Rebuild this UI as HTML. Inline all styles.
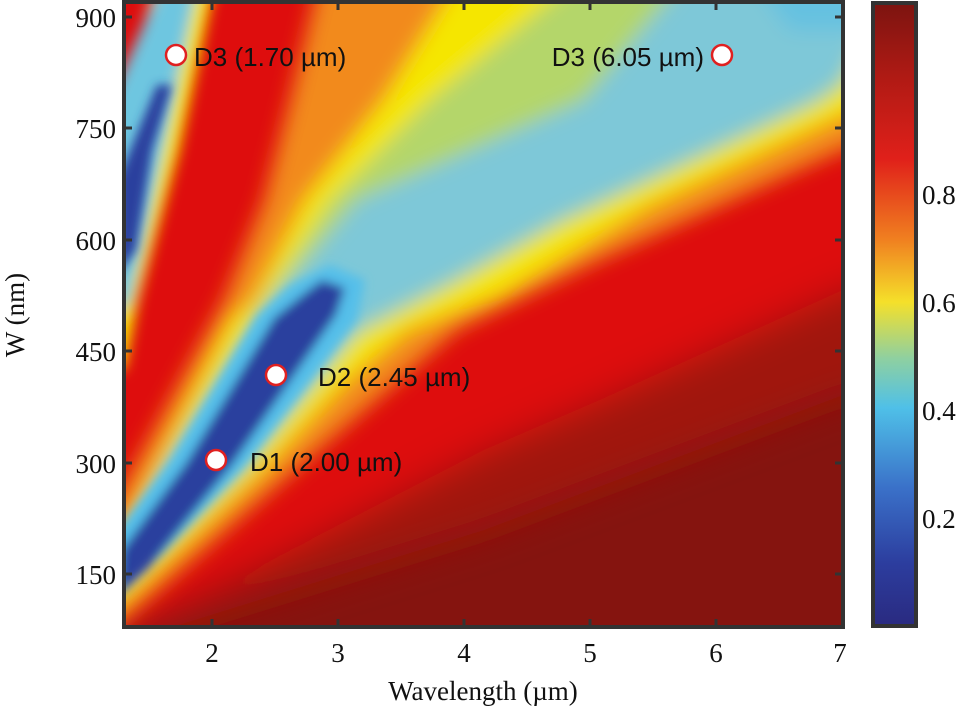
<!DOCTYPE html>
<html><head><meta charset="utf-8"><style>
body{margin:0;background:#fff;}
svg{display:block}
.t{font-family:"Liberation Serif",serif;font-size:27px;fill:#111}
.a{font-family:"Liberation Sans",sans-serif;font-size:26px;fill:#111}
</style></head><body>
<svg width="970" height="719" viewBox="0 0 970 719">
<defs>
<clipPath id="c"><rect x="124" y="2" width="719" height="625"/></clipPath>
<filter id="b" filterUnits="userSpaceOnUse" x="0" y="-100" width="1000" height="900"><feGaussianBlur stdDeviation="18"/></filter>
<filter id="b1" filterUnits="userSpaceOnUse" x="0" y="-100" width="1000" height="900"><feGaussianBlur stdDeviation="10"/></filter>
<filter id="b3" filterUnits="userSpaceOnUse" x="0" y="-100" width="1000" height="900"><feGaussianBlur stdDeviation="7"/></filter>
<filter id="b2" filterUnits="userSpaceOnUse" x="0" y="-100" width="1000" height="900"><feGaussianBlur stdDeviation="5"/></filter>
<linearGradient id="cb" x1="0" y1="0" x2="0" y2="1">
<stop offset="0" stop-color="#7c1410"/><stop offset="0.12" stop-color="#b01a14"/>
<stop offset="0.25" stop-color="#e0201a"/><stop offset="0.38" stop-color="#f08020"/>
<stop offset="0.48" stop-color="#f5e02a"/><stop offset="0.57" stop-color="#8fd0a0"/>
<stop offset="0.65" stop-color="#4fc0e8"/><stop offset="0.78" stop-color="#3a70c8"/>
<stop offset="0.9" stop-color="#2c3d9e"/><stop offset="1" stop-color="#2a2a80"/>
</linearGradient>
</defs>
<g clip-path="url(#c)">
<rect x="100" y="-20" width="760" height="680" fill="#85140f"/>
<g filter="url(#b)">
<polygon points="80,-40 900,-40 900,380 843,395 484,530 130,640 80,650" fill="#a01610"/>
<polygon points="80,-40 900,-40 900,270 843,290 600,400 484,450 300,545 124,630 80,640" fill="#de1010"/>
</g>
<g filter="url(#b1)">
<polygon points="100,640 124,620 284,480 457,330 600,260 843,150 900,130 900,-40 324,-40 290,100 264,200 224,300 135,465 100,530" fill="#f28a1e"/>
<polygon points="100,615 124,600 262,470 345,382 407,330 500,295 650,205 843,115 900,95 900,-40 470,-40 384,100 305,200 254,300 231,320 157,465 124,530 100,560" fill="#f5e600"/>
<polygon points="100,600 126,582 242,472 357,335 450,287 560,225 817,105 843,88 900,-40 600,-40 430,100 330,200 264,300 165,465 124,545 100,570" fill="#b4d66a"/>
<polygon points="100,595 128,572 242,466 357,330 450,282 560,220 817,100 843,80 900,-40 700,-40 584,100 357,200 274,300 170,465 124,555 100,580" fill="#7ec8d8"/>
<polygon points="740,-40 900,-40 900,30 790,30" fill="#55bde8" opacity="0.6"/>
</g>
<g filter="url(#b3)">
<polygon points="162,-40 220,-40 179,150 138,300 124,370 100,370 100,180" fill="#f5e600"/>
<polygon points="172,-40 203,-40 163,150 130,300 110,320 110,100" fill="#6ec6e0"/>
</g>
<g filter="url(#b2)">
<polygon points="110,600 160,556 246,465 357,320 365,280 330,265 290,285 257,315 170,460 110,540" fill="#55bfea"/>
<polygon points="118,596 148,568 232,465 336,315 345,288 322,280 306,292 274,318 186,463 122,550" fill="#2c3f9e"/>
<polygon points="118,275 118,180 157,85 172,85 152,150 136,250" fill="#2c3f9e"/>
</g>
</g>
<rect x="124" y="2" width="719" height="625" fill="none" stroke="#333" stroke-width="4"/>
<g stroke="#333" stroke-width="3">
<line x1="212" y1="627" x2="212" y2="619"/><line x1="338" y1="627" x2="338" y2="619"/><line x1="464" y1="627" x2="464" y2="619"/><line x1="590" y1="627" x2="590" y2="619"/><line x1="716" y1="627" x2="716" y2="619"/>
<line x1="212" y1="2" x2="212" y2="10"/><line x1="338" y1="2" x2="338" y2="10"/><line x1="464" y1="2" x2="464" y2="10"/><line x1="590" y1="2" x2="590" y2="10"/><line x1="716" y1="2" x2="716" y2="10"/>
<line x1="124" y1="17" x2="132" y2="17"/><line x1="124" y1="128" x2="132" y2="128"/><line x1="124" y1="240" x2="132" y2="240"/><line x1="124" y1="351" x2="132" y2="351"/><line x1="124" y1="463" x2="132" y2="463"/><line x1="124" y1="574" x2="132" y2="574"/>
<line x1="843" y1="17" x2="835" y2="17"/><line x1="843" y1="128" x2="835" y2="128"/><line x1="843" y1="240" x2="835" y2="240"/><line x1="843" y1="351" x2="835" y2="351"/><line x1="843" y1="463" x2="835" y2="463"/><line x1="843" y1="574" x2="835" y2="574"/>
</g>
<g class="t" text-anchor="end">
<text x="116" y="27">900</text><text x="116" y="138">750</text><text x="116" y="250">600</text><text x="116" y="361">450</text><text x="116" y="473">300</text><text x="116" y="584">150</text>
</g>
<g class="t" text-anchor="middle">
<text x="212" y="662">2</text><text x="338" y="662">3</text><text x="464" y="662">4</text><text x="590" y="662">5</text><text x="716" y="662">6</text><text x="840" y="662">7</text>
<text x="483" y="700">Wavelength (µm)</text>
<text transform="translate(24,315) rotate(-90)">W (nm)</text>
</g>
<rect x="873" y="3" width="43" height="623" fill="url(#cb)" stroke="#333" stroke-width="4"/>
<g class="t"><text x="922" y="204">0.8</text><text x="922" y="312">0.6</text><text x="922" y="420">0.4</text><text x="922" y="528">0.2</text></g>
<g fill="#fff" stroke="#e02020" stroke-width="2.5">
<circle cx="176" cy="55" r="10"/><circle cx="722" cy="55" r="10"/><circle cx="276" cy="375" r="10"/><circle cx="216" cy="460" r="10"/>
</g>
<g class="a">
<text x="194" y="66">D3 (1.70 µm)</text>
<text x="704" y="66" text-anchor="end">D3 (6.05 µm)</text>
<text x="318" y="386">D2 (2.45 µm)</text>
<text x="250" y="471">D1 (2.00 µm)</text>
</g>
</svg>
</body></html>
